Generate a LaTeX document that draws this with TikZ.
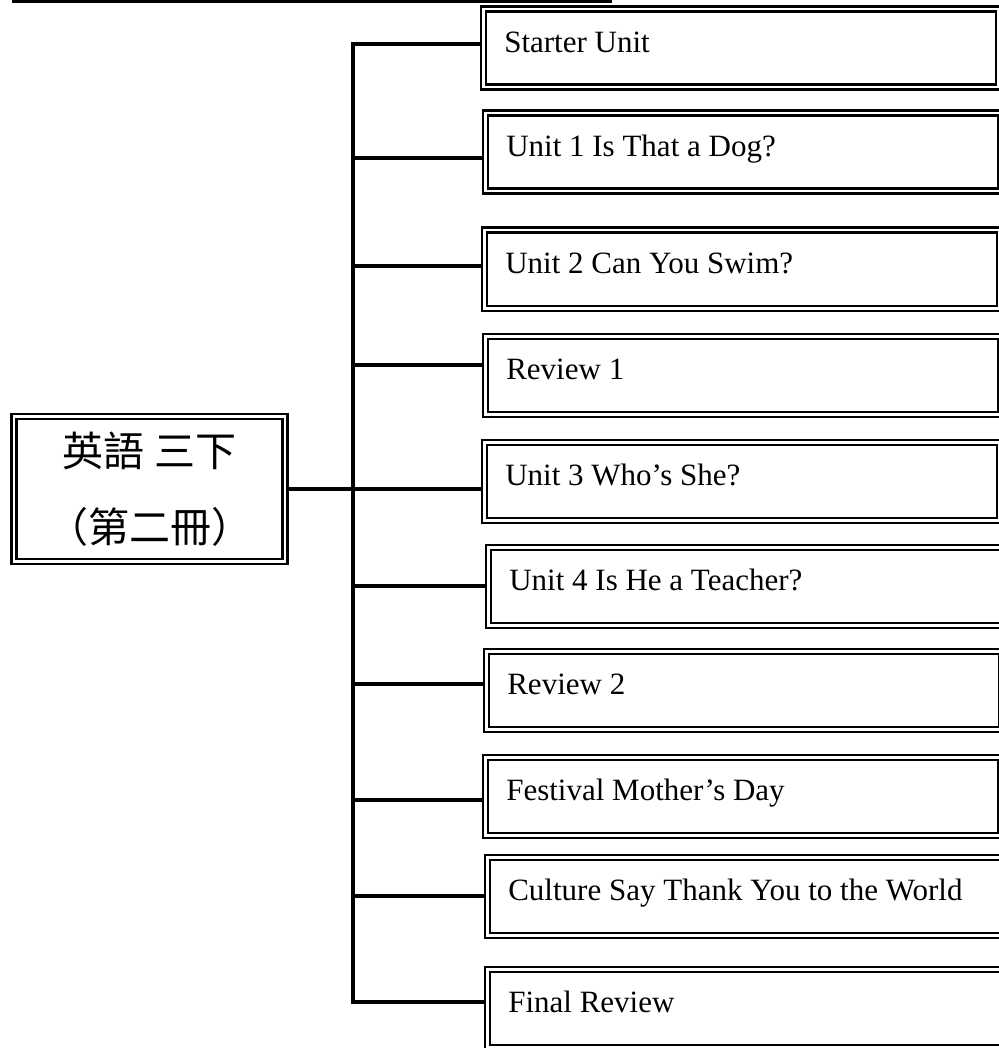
\documentclass[tikz,border=0pt]{standalone}
\usepackage{fontspec}
\setmainfont{Liberation Serif}
\newfontfamily\cjk{Noto Sans CJK TC}
\tikzset{
  unitbox/.style={draw,double,line width=1.3pt,double distance=1.2pt,anchor=north west,
    inner xsep=10.5pt,inner ysep=0pt,text width=236.5pt,align=flush left,
    text height=21.5pt,text depth=17.5pt,font=\fontsize{15.5}{18}\selectfont},
  rootbox/.style={draw,double,line width=1.3pt,double distance=1.2pt,
    minimum width=135.5pt,minimum height=72.5pt,align=center,
    font=\cjk\fontsize{20.5}{38}\selectfont},
  branch/.style={line width=1.6pt},
  trunk/.style={line width=2pt,line cap=rect}
}
\begin{document}
\begin{tikzpicture}[x=0.5pt,y=-0.5pt]
\useasboundingbox (0,0) rectangle (998,1048);
\draw[line width=1.5pt] (12,1.5) -- (612,1.5);
\foreach \n/\l/\t/\c/\txt in {1/478/4/44/Starter Unit,2/480/108/158/Unit 1 Is That a Dog?,
  3/479/225/266/Unit 2 Can You Swim?,4/480/331/365/Review 1,5/479/437/489/Unit 3 Who’s She?,
  6/483/542/586/Unit 4 Is He a Teacher?,7/481/646/684/Review 2,8/480/752/800/Festival Mother’s Day,
  9/482/852/896/Culture Say Thank You to the World,10/482/964/1002/Final Review} {
  \node[unitbox] (b\n) at (\l+4,\t+4) {\txt};
  \coordinate (j\n) at (353,\c);
  \draw[branch,shorten >=1.2pt] (j\n) -- (j\n -| b\n.west);
}
\draw[trunk] (j1) -- (j10);
\node[rootbox] (root) at (149.5,489) {英語 三下\\（第二冊）};
\draw[branch,shorten <=1.2pt] (root.east |- j5) -- (j5);
\end{tikzpicture}
\end{document}
